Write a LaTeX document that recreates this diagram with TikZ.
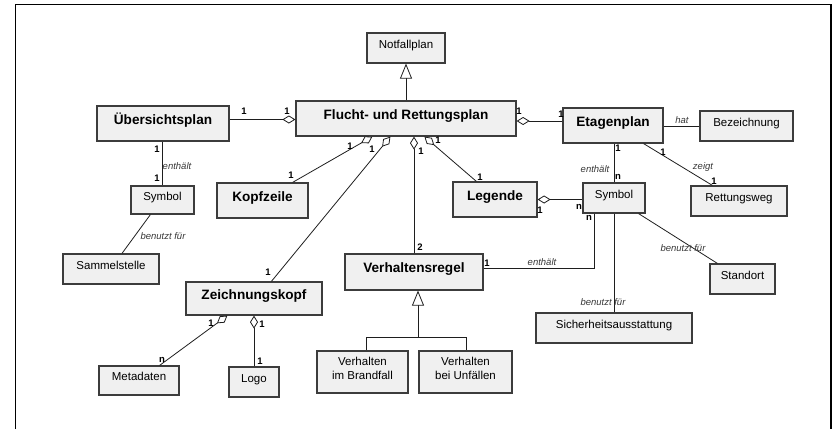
\documentclass[tikz,border=0pt]{standalone}
\usepackage{fontspec}
\setmainfont{Liberation Sans}
\usetikzlibrary{arrows.meta}

\definecolor{boxfill}{RGB}{240,240,240}
\definecolor{boxline}{RGB}{60,60,60}
\definecolor{wire}{RGB}{30,30,30}
\definecolor{roletext}{RGB}{55,55,55}

\newcommand\clsbold{\fontsize{13.6}{16}\selectfont\bfseries}
\newcommand\clsplain{\fontsize{11.5}{13.5}\selectfont}
\newcommand\multfont{\fontsize{9.5}{11}\selectfont\bfseries}
\newcommand\rolefont{\fontsize{9.5}{11}\selectfont\itshape}

\tikzset{
  cls/.style={draw=boxline, line width=1.2pt, fill=boxfill, inner sep=0pt},
  main/.style={cls, font=\clsbold, text height=10pt, text depth=9pt},
  plain/.style={cls, font=\clsplain, text height=8.5pt, text depth=8pt},
  wire/.style={draw=wire, line width=0.8pt},
  agg/.style={wire, -{Diamond[fill=white, length=13pt, width=8pt]}},
  gen/.style={wire, -{Triangle[fill=white, length=15pt, width=12pt]}},
  mult/.style={font=\multfont, inner sep=0pt},
  role/.style={font=\rolefont, text=roletext, inner sep=0pt},
}

\begin{document}
\begin{tikzpicture}[x=1pt, y=-1pt]
\useasboundingbox (0,0) rectangle (838,429);

% sheet border
\draw[line width=1.3pt] (15.5,429) -- (15.5,4.5) -- (831,4.5) -- (831,429);

% classes
\node[plain, minimum width=78pt,  minimum height=30pt] (notf) at (406,48) {Notfallplan};
\node[main,  minimum width=220pt, minimum height=35pt] (fr)   at (406,118.5) {Flucht- und Rettungsplan};
\node[main,  minimum width=132pt, minimum height=35pt] (ueb)  at (163,123.5) {Übersichtsplan};
\node[main,  minimum width=100pt, minimum height=35pt] (etag) at (613,125.5) {Etagenplan};
\node[plain, minimum width=93pt,  minimum height=30pt] (bez)  at (746.5,126) {Bezeichnung};
\node[plain, minimum width=63pt,  minimum height=28pt] (sym1) at (162.5,200) {Symbol};
\node[main,  minimum width=91pt,  minimum height=35pt] (kopf) at (262.5,200.5) {Kopfzeile};
\node[main,  minimum width=84pt,  minimum height=35pt] (leg)  at (495,199.5) {Legende};
\node[plain, minimum width=62pt,  minimum height=30pt] (sym2) at (614,198) {Symbol};
\node[plain, minimum width=96pt,  minimum height=30pt] (rett) at (739,201) {Rettungsweg};
\node[plain, minimum width=96pt,  minimum height=30pt] (samm) at (111,269) {Sammelstelle};
\node[main,  minimum width=138pt, minimum height=36pt] (verh) at (414,272) {Verhaltensregel};
\node[plain, minimum width=65pt,  minimum height=30pt] (stand) at (742.5,279) {Standort};
\node[main,  minimum width=136pt, minimum height=33pt] (zk)   at (254,298.5) {Zeichnungskopf};
\node[plain, minimum width=156pt, minimum height=30pt] (sich) at (614,328) {Sicherheitsausstattung};
\node[plain, minimum width=80pt,  minimum height=29pt] (meta) at (139,380.5) {Metadaten};
\node[plain, minimum width=50pt,  minimum height=30pt] (logo) at (254,382) {Logo};
\node[cls,   minimum width=91pt,  minimum height=42pt] (brand) at (362.5,372) {};
\node[cls,   minimum width=93pt,  minimum height=42pt] (unf)  at (465.5,372) {};
\node[font=\clsplain, align=center, inner sep=0pt] (brandtxt) at ([yshift=3.5pt]brand.center) {Verhalten\\im Brandfall};
\node[font=\clsplain, align=center, inner sep=0pt] (unftxt)   at ([yshift=3.5pt]unf.center)   {Verhalten\\bei Unfällen};

% helper points
\coordinate (genjoin) at (418,337);
\coordinate (genleft) at (366,337);
\coordinate (genright) at (466,337);

% generalisations
\draw[gen] (fr.north) -- (notf.south);
\draw[gen] (genjoin) -- ([xshift=4pt]verh.south);
\draw[wire] (brand.north -| genleft) |- (genright) -- (genright |- unf.north);

% aggregations of the escape plan
\draw[agg] (ueb.east |- 0,119.5) -- (fr.west |- 0,119.5);
\draw[agg] (etag.west |- 0,121) -- (fr.east |- 0,121);
\draw[agg] ([xshift=-16pt]kopf.north east) -- ([xshift=77pt]fr.south west);
\draw[agg] ([xshift=86pt]zk.north west) -- ([xshift=95pt]fr.south west);
\draw[agg] (verh.north) -- (verh.north |- fr.south);
\draw[agg] ([xshift=24pt]leg.north west) -- ([xshift=129pt]fr.south west);
\draw[agg] (sym2.west |- leg.east) -- (leg.east);
\draw[agg] ([xshift=-20pt]meta.north east) -- ([xshift=42pt]zk.south west);
\draw[agg] (logo.north) -- (logo.north |- zk.south);

% plain associations
\draw[wire] (etag.east |- bez.west) -- (bez.west);
\draw[wire] ([xshift=-20pt]etag.south east) -- ([xshift=22pt]rett.north west);
\draw[wire] (sym2.north |- etag.south) -- (sym2.north);
\draw[wire] ([xshift=12pt]sym2.south west) |- (verh.east |- 0,268);
\draw[wire] ([xshift=-7pt]sym2.south east) -- ([xshift=8pt]stand.north west);
\draw[wire] (sym2.south) -- (sich.north);
\draw[wire] (sym1.north |- ueb.south) -- (sym1.north);
\draw[wire] ([xshift=20pt]sym1.south west) -- ([xshift=11pt]samm.north);

% multiplicities
\node[mult] (m01) at (244,111) {1};
\node[mult] (m02) at (287,111) {1};
\node[mult] (m03) at (519,111) {1};
\node[mult] (m04) at (561,114) {1};
\node[mult] (m05) at (663,152) {1};
\node[mult] (m06) at (714,181) {1};
\node[mult] (m07) at (618,148) {1};
\node[mult] (m08) at (618,177) {n};
\node[mult] (m09) at (540,210) {1};
\node[mult] (m10) at (579,207) {n};
\node[mult] (m11) at (589,218) {n};
\node[mult] (m12) at (487,263) {1};
\node[mult] (m13) at (350,146) {1};
\node[mult] (m14) at (291,175) {1};
\node[mult] (m15) at (372,149) {1};
\node[mult] (m16) at (268,272) {1};
\node[mult] (m17) at (421,151) {1};
\node[mult] (m18) at (420,247) {2};
\node[mult] (m19) at (438,140) {1};
\node[mult] (m20) at (480,177) {1};
\node[mult] (m21) at (157,149) {1};
\node[mult] (m22) at (157,178) {1};
\node[mult] (m23) at (211,323) {1};
\node[mult] (m24) at (162,360) {n};
\node[mult] (m25) at (262,324) {1};
\node[mult] (m26) at (260,361) {1};

% association names
\node[role] (r01) at (177,166) {enthält};
\node[role] (r02) at (163,236) {benutzt für};
\node[role] (r03) at (682,120) {hat};
\node[role] (r04) at (703,167) {zeigt};
\node[role] (r05) at (595,169) {enthält};
\node[role] (r06) at (683,248) {benutzt für};
\node[role] (r07) at (542,262) {enthält};
\node[role] (r08) at (603,302) {benutzt für};
\end{tikzpicture}
\end{document}
